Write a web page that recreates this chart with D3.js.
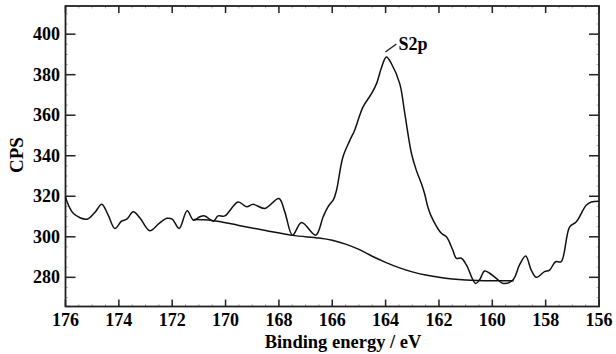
<!DOCTYPE html>
<html>
<head>
<meta charset="utf-8">
<script src="https://cdn.jsdelivr.net/npm/d3@7"></script>
<style>
  body { margin: 0; background: #fff; }
  svg { display: block; }
  text { font-family: "Liberation Serif", "Times New Roman", serif; font-weight: bold; fill: #000; }
</style>
</head>
<body>
<div id="chart"></div>
<script>
// spectrum: binding energy (eV) and counts per second
var energy = [176.0, 175.7, 175.2, 174.9, 174.64, 174.4, 174.15, 173.9, 173.7, 173.46, 173.2, 172.84, 172.5, 172.2, 172.0,
  171.74, 171.44, 171.2, 170.96, 170.78, 170.46, 170.28, 170.03, 169.53, 169.21, 168.97, 168.53, 168.0, 167.78, 167.49,
  167.15, 166.62, 166.34, 166.16, 165.95, 165.84, 165.6, 165.34, 165.16, 164.85, 164.53, 164.34, 164.15, 163.97, 163.78,
  163.47, 163.28, 163.03, 162.85, 162.66, 162.54, 162.4, 162.22, 161.91, 161.72, 161.48, 161.35, 161.16, 160.97, 160.63,
  160.48, 160.29, 160.1, 159.85, 159.6, 159.23, 158.98, 158.75, 158.54, 158.35, 158.04, 157.85, 157.63, 157.42, 157.1,
  156.85, 156.48, 156.29, 156.0];
var cps = [319.5, 311.5, 308.7, 312, 316.1, 310.7, 304.1, 307.7, 308.7, 312.3, 309.1, 303.0, 306.5, 309.1, 308.7,
  304.1, 312.8, 308.2, 309.9, 310.3, 307.7, 310.3, 310.3, 317.2, 314.8, 316.0, 314.0, 318.9, 312.3, 300.8,
  307.1, 300.8, 309.9, 314.8, 318.5, 323, 339.4, 347.6, 352.6, 364, 370.6, 375.6, 383.7, 388.7, 385.4,
  375.6, 360.8, 341.1, 332.9, 326.3, 321.4, 314, 308.2, 301.7, 300, 293.4, 289.4, 289.4, 286.1, 277,
  278.7, 283.1, 282, 279.5, 277, 278.7, 286.1, 290.5, 283.6, 280, 282.8, 283.6, 287.7, 287.7, 304.9,
  307.4, 315.6, 317.2, 317.6];

// background line under the S2p peak
var bgEnergy = [171.2, 170.5, 169.5, 168.5, 167.5, 166.5, 166.0, 165.5, 165.0, 164.5, 164.0, 163.5, 163.0, 162.5,
  162.0, 161.5, 161.0, 160.0, 159.2];
var bgCps = [308.5, 308.1, 305.6, 303.1, 300.7, 299.4, 298.3, 296.4, 293.8, 290.4, 287.4, 284.8, 282.7, 281.1,
  280.0, 279.2, 278.7, 278.3, 278.3];

var xTicks = [176, 174, 172, 170, 168, 166, 164, 162, 160, 158, 156];
var yTicks = [280, 300, 320, 340, 360, 380, 400];
var peakLabel = "S2p";

var width = 616, height = 354;
var plotL = 65.5, plotR = 599, plotT = 6, plotB = 306.5;

var svg = d3.select("#chart").append("svg").attr("width", width).attr("height", height);

var x = d3.scaleLinear().domain([176, 156]).range([plotL, plotR]);
var y = d3.scaleLinear().domain([265.6, 413.9]).range([plotB, plotT]);

var axisColor = "#222";

// inward ticks on all four sides (minor ones are faint in the print)
var minorX = d3.range(156, 176.01, 0.5), minorY = d3.range(270, 411, 5);
var g = svg.append("g").attr("stroke", axisColor);

g.selectAll(".mxb").data(minorX).enter().append("line")
  .attr("x1", x).attr("x2", x).attr("y1", plotB).attr("y2", plotB - 2.5).attr("stroke-width", 0.6).attr("stroke", "#888");
g.selectAll(".mxt").data(minorX).enter().append("line")
  .attr("x1", x).attr("x2", x).attr("y1", plotT).attr("y2", plotT + 2.5).attr("stroke-width", 0.6).attr("stroke", "#888");
g.selectAll(".myl").data(minorY).enter().append("line")
  .attr("y1", y).attr("y2", y).attr("x1", plotL).attr("x2", plotL + 2.5).attr("stroke-width", 0.6).attr("stroke", "#888");
g.selectAll(".myr").data(minorY).enter().append("line")
  .attr("y1", y).attr("y2", y).attr("x1", plotR).attr("x2", plotR - 2.5).attr("stroke-width", 0.6).attr("stroke", "#888");

g.selectAll(".xb").data(xTicks).enter().append("line")
  .attr("x1", x).attr("x2", x).attr("y1", plotB).attr("y2", plotB - 7).attr("stroke-width", 1.5);
g.selectAll(".xt").data(xTicks).enter().append("line")
  .attr("x1", x).attr("x2", x).attr("y1", plotT).attr("y2", plotT + 7).attr("stroke-width", 1.5);
g.selectAll(".yl").data(yTicks).enter().append("line")
  .attr("y1", y).attr("y2", y).attr("x1", plotL).attr("x2", plotL + 10).attr("stroke-width", 1.5);
g.selectAll(".yr").data(yTicks).enter().append("line")
  .attr("y1", y).attr("y2", y).attr("x1", plotR).attr("x2", plotR - 10).attr("stroke-width", 1.5);

svg.append("rect")
  .attr("x", plotL).attr("y", plotT).attr("width", plotR - plotL).attr("height", plotB - plotT)
  .attr("fill", "none").attr("stroke", axisColor).attr("stroke-width", 1.8);

// tick labels
svg.selectAll(".xl").data(xTicks).enter().append("text")
  .attr("x", x).attr("y", 326).attr("text-anchor", "middle")
  .attr("font-size", 18).text(function(d) { return d; });
svg.selectAll(".ylab").data(yTicks).enter().append("text")
  .attr("x", 60).attr("y", function(d) { return y(d) + 6; }).attr("text-anchor", "end")
  .attr("font-size", 18).text(function(d) { return d; });

svg.append("text").attr("x", 343).attr("y", 348).attr("text-anchor", "middle")
  .attr("font-size", 18.5).text("Binding energy / eV");
svg.append("text").attr("transform", "translate(23,155) rotate(-90)").attr("text-anchor", "middle")
  .attr("font-size", 19).text("CPS");

// curves
var spectrum = energy.map(function(e, i) { return [e, cps[i]]; });
var background = bgEnergy.map(function(e, i) { return [e, bgCps[i]]; });
var line = d3.line().x(function(d) { return x(d[0]); }).y(function(d) { return y(d[1]); })
  .curve(d3.curveCatmullRom.alpha(0.5));

svg.append("path").datum(background).attr("d", line)
  .attr("fill", "none").attr("stroke", "#111").attr("stroke-width", 1.5);
svg.append("path").datum(spectrum).attr("d", line)
  .attr("fill", "none").attr("stroke", "#111").attr("stroke-width", 1.5);

// peak annotation
var iPeak = d3.maxIndex(cps);
var px = x(energy[iPeak]), py = y(cps[iPeak]);
svg.append("line").attr("x1", px - 1).attr("y1", py - 5).attr("x2", px + 10).attr("y2", py - 13)
  .attr("stroke", "#111").attr("stroke-width", 1.2);
svg.append("text").attr("x", px + 12).attr("y", py - 7).attr("font-size", 18).text(peakLabel);
</script>
</body>
</html>
